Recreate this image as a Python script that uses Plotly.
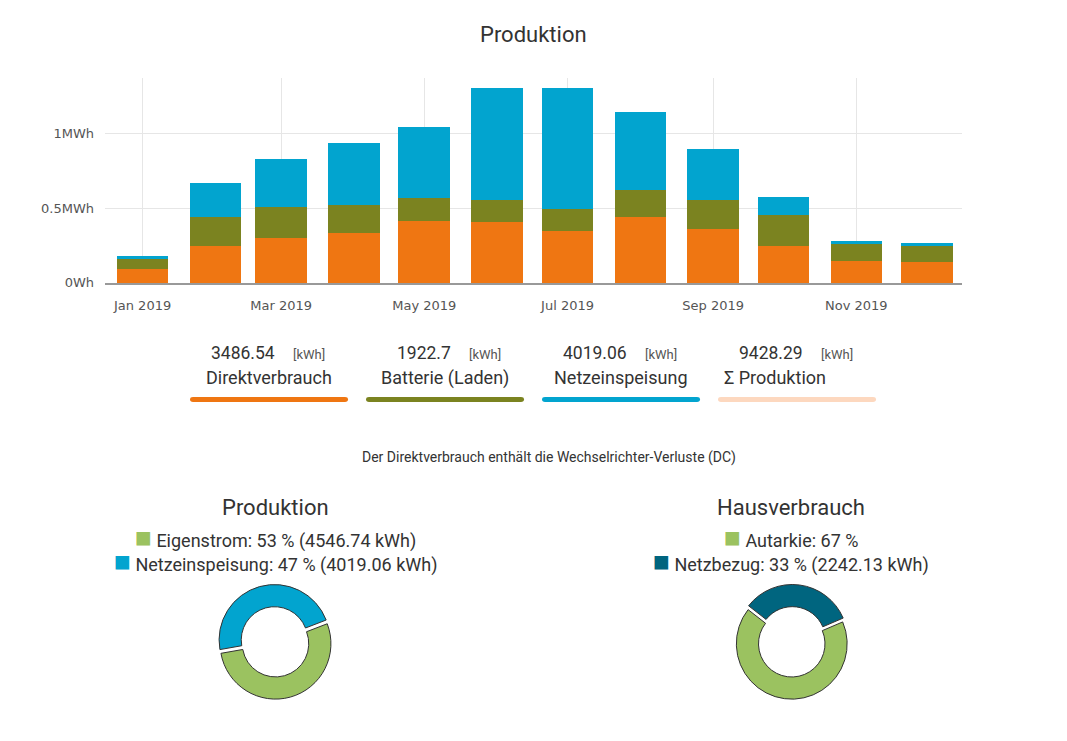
import plotly.graph_objects as go

# monthly production in kWh
months = ["2019-01-01", "2019-02-01", "2019-03-01", "2019-04-01", "2019-05-01", "2019-06-01",
          "2019-07-01", "2019-08-01", "2019-09-01", "2019-10-01", "2019-11-01", "2019-12-01"]
direktverbrauch = [93, 243, 297, 336, 416, 409, 350, 442, 363, 243, 144, 137]
batterie = [66, 199, 212, 186, 155, 148, 146, 182, 194, 208, 113, 115]
netzeinspeisung = [18, 226, 320, 418, 475, 748, 809, 522, 337, 124, 20, 13]

# summary row
summary_labels = ["Direktverbrauch", "Batterie (Laden)", "Netzeinspeisung", "Σ Produktion"]
summary_values = ["3486.54", "1922.7", "4019.06", "9428.29"]

# donuts
prod_labels = ["Netzeinspeisung", "Eigenstrom"]
prod_kwh = [4019.06, 4546.74]
haus_labels = ["Netzbezug", "Autarkie"]
haus_pct = [33, 67]
netzbezug_kwh = 2242.13

ytick_vals = [0, 0.5, 1]
ytick_text = ["0Wh", "0.5MWh", "1MWh"]

ORANGE = "#ef7612"
OLIVE = "#7b8320"
BLUE = "#02a4cf"
PEACH = "#fdd8bf"
LGREEN = "#9bc260"
TEAL = "#00657f"

# page body has an 8px margin, keep the figure small enough to fit the window
OFF = 8
W, H = 1067 - 2 * OFF, 741 - 2 * OFF - 10
def px(x):
    return (x - OFF) / W
def py(y):
    return 1 - (y - OFF) / H

fig = go.Figure()
bar_w = 22 * 86400000
for name, vals, col in [("Direktverbrauch", direktverbrauch, ORANGE),
                        ("Batterie (Laden)", batterie, OLIVE),
                        ("Netzeinspeisung", netzeinspeisung, BLUE)]:
    fig.add_trace(go.Bar(x=months, y=[v * 1000 for v in vals], name=name,
                         marker=dict(color=col, line=dict(width=0)), width=bar_w))

fig.update_layout(barmode="stack", showlegend=False)

# donut: Produktion
fig.add_trace(go.Pie(labels=prod_labels, values=prod_kwh, hole=0.6, sort=False,
                     direction="counterclockwise", rotation=-100, pull=[0.035, 0.035],
                     textinfo="none", marker=dict(colors=[BLUE, LGREEN], line=dict(color="#333", width=1)),
                     domain=dict(x=[px(217), px(333)], y=[py(707), py(591)])))
# donut: Hausverbrauch
fig.add_trace(go.Pie(labels=haus_labels, values=haus_pct, hole=0.6, sort=False,
                     direction="counterclockwise", rotation=-52, pull=[0.035, 0.035],
                     textinfo="none", marker=dict(colors=[TEAL, LGREEN], line=dict(color="#333", width=1)),
                     domain=dict(x=[px(734), px(850)], y=[py(707), py(591)])))

fig.update_xaxes(type="date", domain=[px(105), px(962)], range=["2018-12-16", "2019-12-16"],
                 tick0="2019-01-01", dtick="M2", tickformat="%b %Y",
                 showgrid=True, gridcolor="#e6e6e6", showline=True, linecolor="#999", linewidth=2,
                 tickfont=dict(family="DejaVu Sans", size=13, color="#555"), ticklabelstandoff=10)
fig.update_yaxes(domain=[py(286), py(79)], range=[0, 1373600],
                 tickvals=[v * 1e6 for v in ytick_vals], ticktext=ytick_text,
                 showgrid=True, gridcolor="#e6e6e6", zeroline=False,
                 tickfont=dict(family="DejaVu Sans", size=13, color="#555"), ticklabelstandoff=10)

ann = []
ann.append(dict(text="Produktion", x=px(533), y=py(35), font=dict(size=22, color="#333")))

# summary row under the bar chart
centers = [269, 445, 621, 797]
label_centers = [269, 445, 621, 775]
colors = [ORANGE, OLIVE, BLUE, PEACH]
shapes = []
for i in range(4):
    c = centers[i]
    ann.append(dict(text=summary_values[i], x=px(c + 8), y=py(357), xanchor="right",
                    font=dict(size=17.5, color="#333")))
    ann.append(dict(text="[kWh]", x=px(c + 22), y=py(358), xanchor="left",
                    font=dict(size=13, color="#555")))
    ann.append(dict(text=summary_labels[i], x=px(label_centers[i]), y=py(382),
                    font=dict(size=18, color="#333")))
    # rounded colour strip
    xa, xb = px(c - 79), px(c + 79)
    r = px(c - 76) - xa
    yt, yb, ym = py(401.5), py(406.5), py(404)
    path = (f"M{xa + r},{yt} L{xb - r},{yt} Q{xb},{yt} {xb},{ym} Q{xb},{yb} {xb - r},{yb} "
            f"L{xa + r},{yb} Q{xa},{yb} {xa},{ym} Q{xa},{yt} {xa + r},{yt} Z")
    shapes.append(dict(type="path", xref="paper", yref="paper", path=path,
                       fillcolor=colors[i], line=dict(width=0)))

ann.append(dict(text="Der Direktverbrauch enthält die Wechselrichter-Verluste (DC)",
                x=px(549), y=py(463), font=dict(size=14, color="#333")))

# donut titles + legend lines
prod_pct = [round(100 * v / sum(prod_kwh)) for v in prod_kwh]
sq = "<span style='color:{};font-size:28px'>■</span>"
ann.append(dict(text="Produktion", x=px(275), y=py(513), font=dict(size=22, color="#333")))
ann.append(dict(text=sq.format(LGREEN) + f" {prod_labels[1]}: {prod_pct[1]} % ({prod_kwh[1]} kWh)",
                x=px(275), y=py(543), font=dict(size=18, color="#333")))
ann.append(dict(text=sq.format(BLUE) + f" {prod_labels[0]}: {prod_pct[0]} % ({prod_kwh[0]} kWh)",
                x=px(275), y=py(568), font=dict(size=18, color="#333")))

ann.append(dict(text="Hausverbrauch", x=px(791), y=py(513), font=dict(size=22, color="#333")))
ann.append(dict(text=sq.format(LGREEN) + f" {haus_labels[1]}: {haus_pct[1]} %",
                x=px(791), y=py(543), font=dict(size=18, color="#333")))
ann.append(dict(text=sq.format(TEAL) + f" {haus_labels[0]}: {haus_pct[0]} % ({netzbezug_kwh} kWh)",
                x=px(791), y=py(568), font=dict(size=18, color="#333")))

for a in ann:
    a.update(xref="paper", yref="paper", showarrow=False, yanchor="middle")
    a.setdefault("xanchor", "center")

fig.update_layout(width=W, height=H, margin=dict(l=0, r=0, t=0, b=0),
                  paper_bgcolor="white", plot_bgcolor="white",
                  font=dict(family="Roboto", color="#333"),
                  annotations=ann, shapes=shapes, bargap=0)

fig.write_html("out.html")
